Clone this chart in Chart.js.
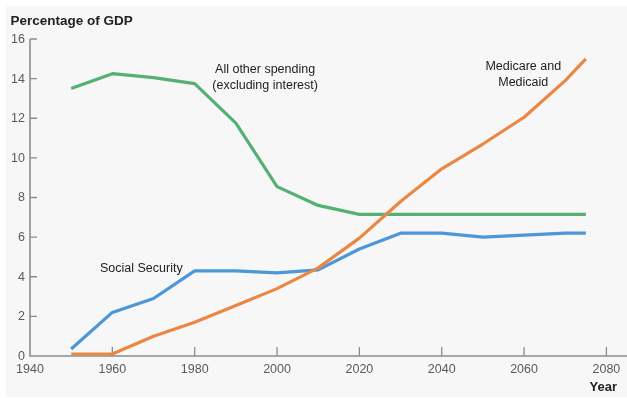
<!DOCTYPE html>
<html>
<head>
<meta charset="utf-8">
<title>Spending as a percentage of GDP</title>
<script src="https://cdn.jsdelivr.net/npm/chart.js@4/dist/chart.umd.min.js"></script>
<style>
  html, body { margin: 0; padding: 0; background: #ffffff; }
  #wrap { width: 627px; height: 398px; position: relative; }
  canvas { display: block; }
</style>
</head>
<body>
<div id="wrap"><canvas id="chart" width="627" height="398"></canvas></div>
<script>
// Years sampled for each spending series
const years = [1950, 1960, 1970, 1980, 1990, 2000, 2010, 2020, 2030, 2040, 2050, 2060, 2070, 2075];

// Percentage of GDP
const allOtherSpending = [13.5, 14.25, 14.05, 13.75, 11.75, 8.55, 7.6, 7.15, 7.15, 7.15, 7.15, 7.15, 7.15, 7.15];
const socialSecurity   = [0.35, 2.2, 2.9, 4.3, 4.3, 4.2, 4.35, 5.4, 6.2, 6.2, 6.0, 6.1, 6.2, 6.2];
const medicareMedicaid = [0.1, 0.1, 1.0, 1.7, 2.55, 3.4, 4.45, 5.95, 7.8, 9.45, 10.7, 12.05, 13.9, 15.0];

// Axis ticks
const xTicks = [1940, 1960, 1980, 2000, 2020, 2040, 2060, 2080];
const yTicks = [0, 2, 4, 6, 8, 10, 12, 14, 16];

const colors = { green: '#55b173', blue: '#4b97d8', orange: '#ea8843', axis: '#8c8c8c', tick: '#5a5a5a', text: '#222222' };
const FONT = '"Liberation Sans", Arial, Helvetica, sans-serif';

// Series labels, anchored in data space (year, percent) at their text baseline
const seriesLabels = [
  { lines: ['All other spending', '(excluding interest)'], x: 1997.1, y: 14.3, align: 'center' },
  { lines: ['Medicare and', 'Medicaid'], x: 2059.8, y: 14.45, align: 'center' },
  { lines: ['Social Security'], x: 1957.0, y: 4.26, align: 'left' }
];

function toPoints(vals) { return vals.map((v, i) => ({ x: years[i], y: v })); }

const panelPlugin = {
  id: 'panel',
  beforeDraw(chart) {
    const ctx = chart.ctx;
    ctx.save();
    ctx.fillStyle = '#ffffff';
    ctx.fillRect(0, 0, chart.width, chart.height);
    ctx.fillStyle = '#f7f7f7';
    ctx.fillRect(6, 6, chart.width - 6, chart.height - 7);
    ctx.restore();
  },
  beforeDatasetsDraw(chart) {
    const ctx = chart.ctx;
    const xs = chart.scales.x, ys = chart.scales.y;
    const x0 = xs.getPixelForValue(xs.min);
    const y0 = ys.getPixelForValue(0);
    const yTop = ys.getPixelForValue(16);
    ctx.save();
    ctx.strokeStyle = colors.axis;
    ctx.lineWidth = 1.6;
    // axis lines
    ctx.beginPath();
    ctx.moveTo(x0, yTop);
    ctx.lineTo(x0, y0);
    ctx.lineTo(chart.width, y0);
    ctx.stroke();
    // inward tick marks
    ctx.lineWidth = 1.3;
    ctx.beginPath();
    yTicks.forEach(v => {
      const py = ys.getPixelForValue(v);
      if (v === 0) return;
      ctx.moveTo(x0, py);
      ctx.lineTo(x0 + 7, py);
    });
    xTicks.forEach(v => {
      const px = xs.getPixelForValue(v);
      if (v === xs.min) return;
      ctx.moveTo(px, y0);
      ctx.lineTo(px, y0 - 9);
    });
    ctx.stroke();

    // tick labels
    ctx.fillStyle = colors.tick;
    ctx.font = '12.5px ' + FONT;
    ctx.textAlign = 'right';
    ctx.textBaseline = 'middle';
    yTicks.forEach(v => ctx.fillText(String(v), x0 - 5, ys.getPixelForValue(v) + 0.5));
    ctx.textAlign = 'center';
    ctx.textBaseline = 'alphabetic';
    xTicks.forEach(v => ctx.fillText(String(v), xs.getPixelForValue(v), y0 + 16.5));

    // titles
    ctx.fillStyle = colors.text;
    ctx.font = 'bold 13.5px ' + FONT;
    ctx.textAlign = 'left';
    ctx.fillText('Percentage of GDP', 10.5, 24.5);
    ctx.font = 'bold 13px ' + FONT;
    ctx.textAlign = 'right';
    ctx.fillText('Year', 617, 390.5);

    // series labels
    ctx.font = '12.5px ' + FONT;
    seriesLabels.forEach(l => {
      ctx.textAlign = l.align;
      const px = xs.getPixelForValue(l.x);
      const py = ys.getPixelForValue(l.y);
      l.lines.forEach((t, i) => ctx.fillText(t, px, py + i * 16.5));
    });
    ctx.restore();
  }
};

function lineDataset(label, vals, color) {
  return {
    label,
    data: toPoints(vals),
    borderColor: color,
    backgroundColor: color,
    borderWidth: 3.2,
    pointRadius: 0,
    tension: 0,
    fill: false,
    borderJoinStyle: 'round',
    borderCapStyle: 'butt'
  };
}

new Chart(document.getElementById('chart'), {
  type: 'line',
  data: {
    datasets: [
      lineDataset('All other spending (excluding interest)', allOtherSpending, colors.green),
      lineDataset('Social Security', socialSecurity, colors.blue),
      lineDataset('Medicare and Medicaid', medicareMedicaid, colors.orange)
    ].reverse()
  },
  options: {
    responsive: false,
    animation: false,
    devicePixelRatio: 1,
    layout: { padding: { left: 30, right: 0, top: 39, bottom: 42 } },
    plugins: { legend: { display: false }, tooltip: { enabled: false } },
    scales: {
      x: { type: 'linear', min: 1940, max: 2085, display: false },
      y: { type: 'linear', min: 0, max: 16, display: false }
    },
    clip: false
  },
  plugins: [panelPlugin]
});
</script>
</body>
</html>
